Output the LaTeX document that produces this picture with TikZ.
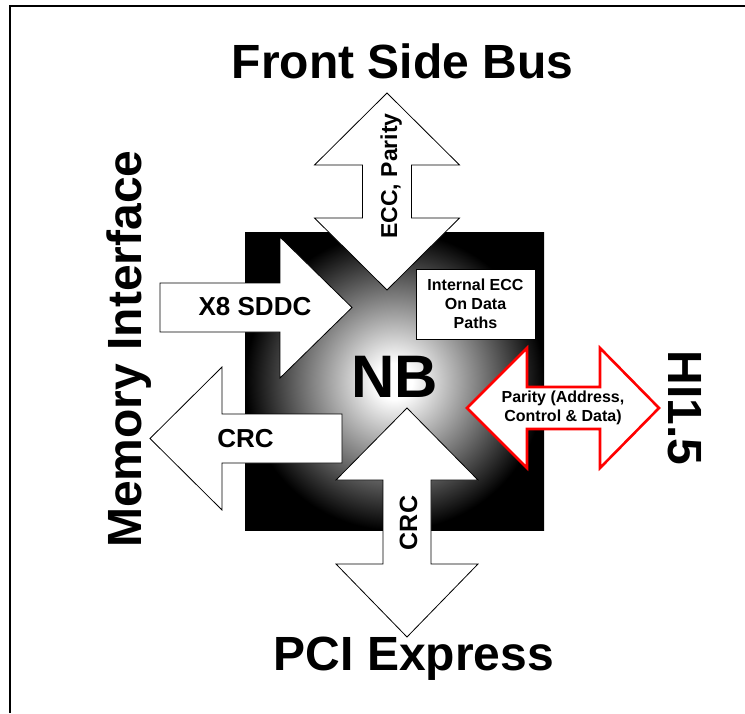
\documentclass[tikz,border=0pt]{standalone}
\usepackage{fontspec}
\setmainfont{Liberation Sans}
\pgfdeclareradialshading{nbshade}{\pgfpoint{0bp}{0bp}}{color(0bp)=(white); color(3bp)=(white); color(25bp)=(black); color(50bp)=(black)}
\tikzset{
  blkarrow/.style={draw=black, fill=white, line width=0.8pt, line join=miter},
  redarrow/.style={draw=red, fill=white, line width=2.6pt, line join=miter},
  title/.style={font=\bfseries\fontsize{48}{56}\selectfont, inner sep=0pt},
  lbl/.style={font=\bfseries\fontsize{26}{30}\selectfont, inner sep=0pt},
  small/.style={font=\bfseries\fontsize{16}{19}\selectfont, align=center, inner sep=0pt},
}
\begin{document}
\begin{tikzpicture}[x=1pt,y=-1pt]
\useasboundingbox (0,0) rectangle (745,713);
% frame
\draw[line width=2pt] (10,713) -- (10,6) -- (745,6);
% NB square
\shade[shading=nbshade] (245,232) rectangle (544,530);
% Front side bus arrow
\path[blkarrow] (387,93) -- (459.5,165) -- (411.5,165) -- (411.5,218) -- (459.5,218) -- (387,290)
  -- (314.5,218) -- (362.5,218) -- (362.5,165) -- (314.5,165) -- cycle;
% PCI Express arrow
\path[blkarrow] (407,408) -- (478,480) -- (431,480) -- (431,564) -- (478,564) -- (407,637)
  -- (336,564) -- (383,564) -- (383,480) -- (336,480) -- cycle;
% X8 SDDC arrow
\path[blkarrow] (160,283) -- (280,283) -- (280,237) -- (352,307.5) -- (280,378) -- (280,332) -- (160,332) -- cycle;
% CRC left arrow
\path[blkarrow] (150,438.5) -- (222,367) -- (222,414) -- (342,414) -- (342,463) -- (222,463) -- (222,510) -- cycle;
% HI arrow
\path[redarrow] (467,408) -- (527,348) -- (527,387) -- (600,387) -- (600,348) -- (659,408) -- (600,468)
  -- (600,429) -- (527,429) -- (527,468) -- cycle;
% internal ECC box
\node[draw=black, fill=white, line width=0.8pt, minimum width=119pt, minimum height=70pt, inner sep=0pt] (ecc) at (475.5,304) {};
\node[small] (ecctext) at (ecc.center) {Internal ECC\\On Data\\Paths};
% texts
\node[title, anchor=base] (fsb) at (402.5,78) {Front Side Bus};
\node[title, anchor=base] (pcie) at (414,670) {PCI Express};
\node[title, anchor=base, rotate=90] (mem) at (141,349) {Memory Interface};
\node[title, anchor=base, rotate=-90] (hi) at (668,408) {HI1.5};
\node[font=\bfseries\fontsize{60}{70}\selectfont, inner sep=0pt] (nb) at (394.5,376.5) {NB};
\node[lbl] (sddc) at (255,307) {X8 SDDC};
\node[lbl] (crcl) at (245.5,438.5) {CRC};
\node[lbl, rotate=90, anchor=base, font=\bfseries\fontsize{25}{30}\selectfont] (crcb) at (417,523) {CRC};
\node[lbl, rotate=90, anchor=base, font=\bfseries\fontsize{23}{28}\selectfont] (eccp) at (397,176) {ECC, Parity};
\node[small] (par) at (563,407.5) {Parity (Address,\\Control \& Data)};
\end{tikzpicture}
\end{document}
